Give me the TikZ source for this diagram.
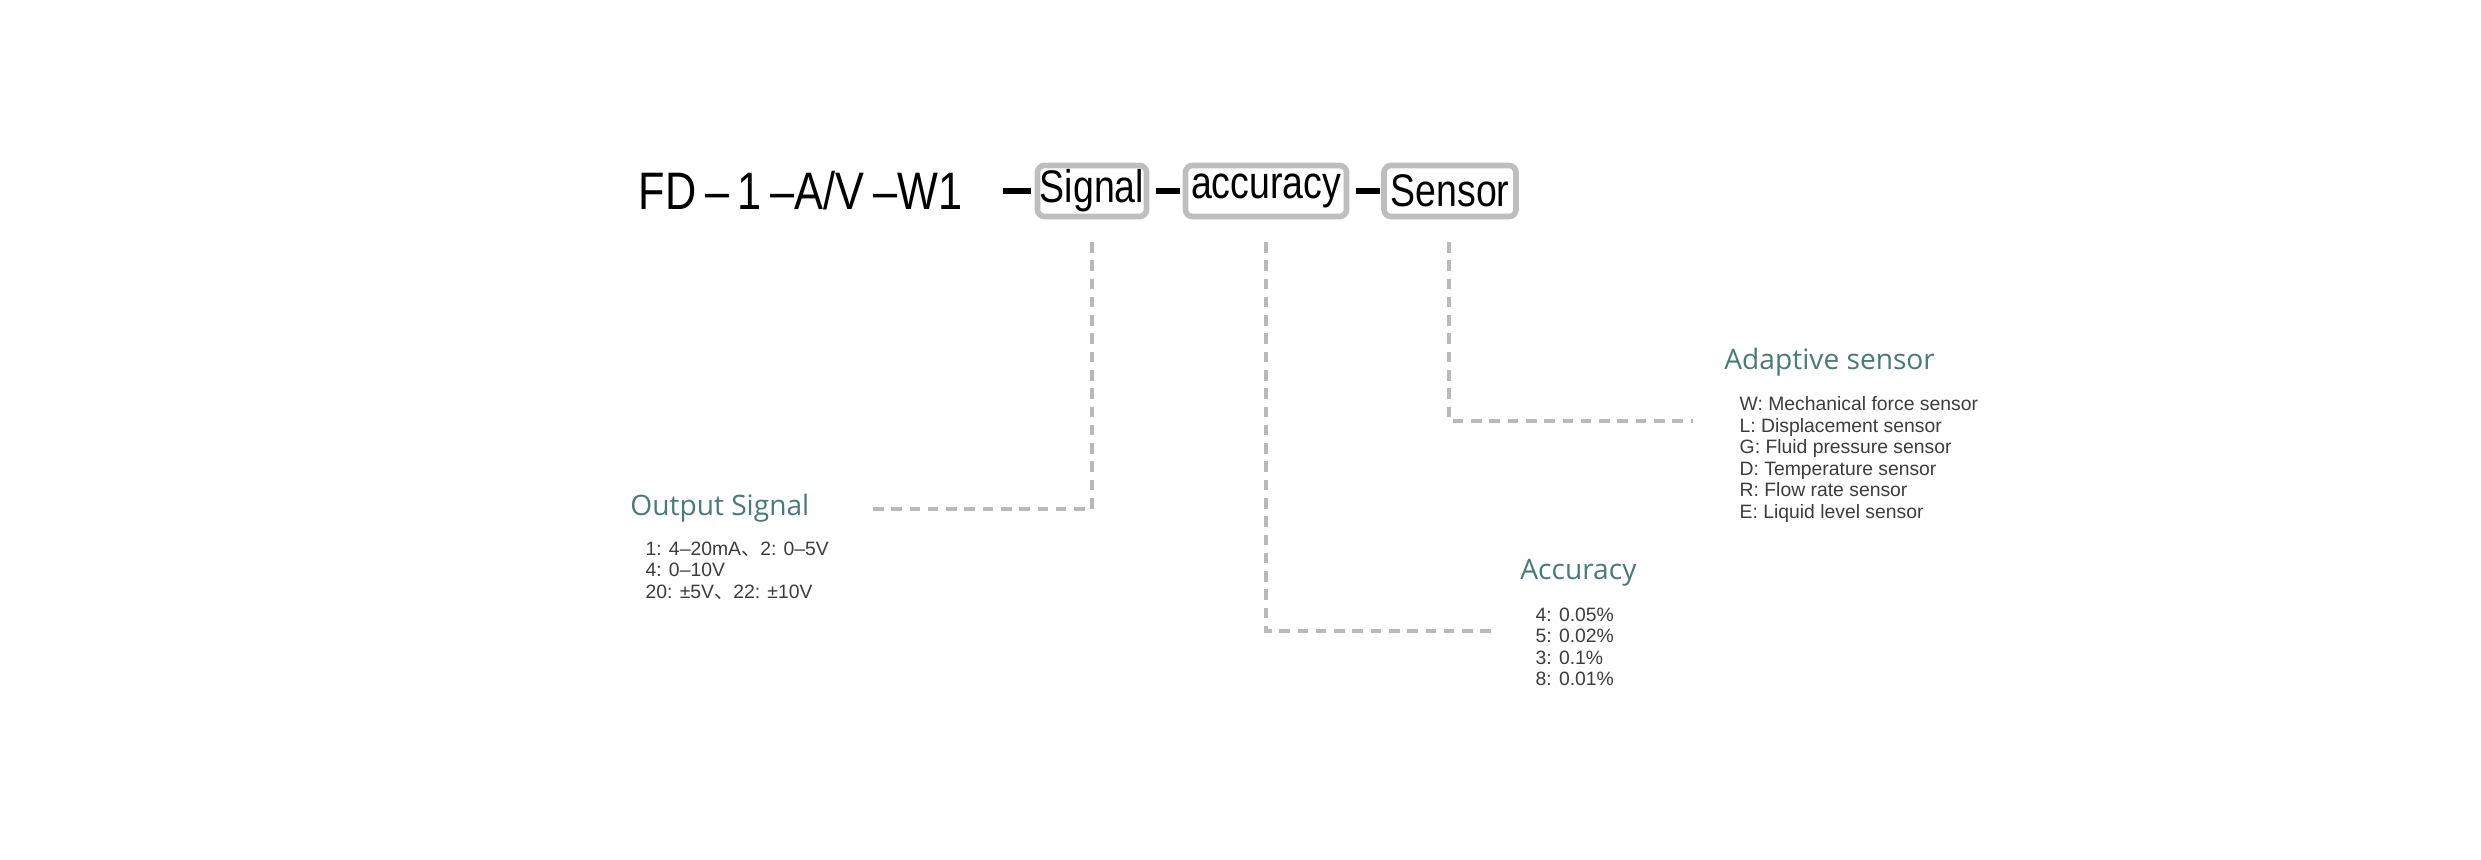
\documentclass[tikz,border=0pt]{standalone}
\usepackage{fontspec}
\setmainfont{Liberation Sans}
\newfontfamily\headfont{Open Sans}
\newfontfamily\narrowfont[FakeStretch=0.82]{Liberation Sans}
\newfontfamily\cjk{Noto Sans CJK SC}
\usetikzlibrary{positioning}
\definecolor{headteal}{RGB}{74,122,120}
\definecolor{boxgray}{RGB}{190,190,190}
\definecolor{leadgray}{RGB}{185,185,185}
\definecolor{itemgray}{RGB}{60,60,60}
\tikzset{
  x=0.01cm, y=-0.01cm,
  codebox/.style={draw=boxgray, line width=1.6pt, rounded corners=2pt, inner sep=0pt,
    minimum height=0.51cm, font=\narrowfont\fontsize{13}{13}\selectfont},
  bar/.style={line width=1.8pt, black},
  leader/.style={draw=leadgray, line width=1.3pt, dash pattern=on 3pt off 2.2pt},
  heading/.style={anchor=west, text=headteal, font=\headfont\fontsize{8}{8}\selectfont},
  items/.style={anchor=north west, align=left, text=itemgray,
    font=\fontsize{5.5}{6.1}\selectfont, inner sep=0pt},
}
\newcommand{\dun}{{\cjk 、}}
\begin{document}
\begin{tikzpicture}
  \useasboundingbox (0,0) rectangle (2481,859);
  % part number
  \node[anchor=west, inner sep=0pt, font=\narrowfont\fontsize{15}{15}\selectfont] (code) at (638,191) {FD\,–\,1\,–A/V\,–W1};
  \node[codebox, minimum width=1.09cm] (signal) at (1092,191) {Signal};
  \node[codebox, minimum width=1.61cm] (accuracy) at (1266,191) {accuracy};
  \node[codebox, minimum width=1.32cm] (sensor) at (1450,191) {Sensor};
  \draw[bar] (1003,191) -- (1031,191);
  \draw[bar] (signal.east) ++(7,0) -- ++(24,0);
  \draw[bar] (accuracy.east) ++(7,0) -- ++(24,0);

  % headings and options
  \node[heading] (outhead) at (618,508) {Output Signal};
  \node[items] (outlist) at (645,541) {1: 4–20mA\dun 2: 0–5V\\4: 0–10V\\20: ±5V\dun 22: ±10V};
  \node[heading] (acchead) at (1508,573) {Accuracy};
  \node[items] (acclist) at (1535,607) {4: 0.05\%\\5: 0.02\%\\3: 0.1\%\\8: 0.01\%};
  \node[heading] (senhead) at (1712,362) {Adaptive sensor};
  \node[items] (senlist) at (1739,396) {W: Mechanical force sensor\\L: Displacement sensor\\G: Fluid pressure sensor\\D: Temperature sensor\\R: Flow rate sensor\\E: Liquid level sensor};

  % leaders
  \coordinate (s1) at (1092,242);
  \coordinate (s2) at (1266,242);
  \coordinate (s3) at (1449,242);
  \coordinate (c1) at (873,509);
  \coordinate (c2) at (1495,631);
  \coordinate (c3) at (1693,421);
  \draw[leader] (s1) |- (c1);
  \draw[leader] (s2) |- (c2);
  \draw[leader] (s3) |- (c3);
\end{tikzpicture}
\end{document}
